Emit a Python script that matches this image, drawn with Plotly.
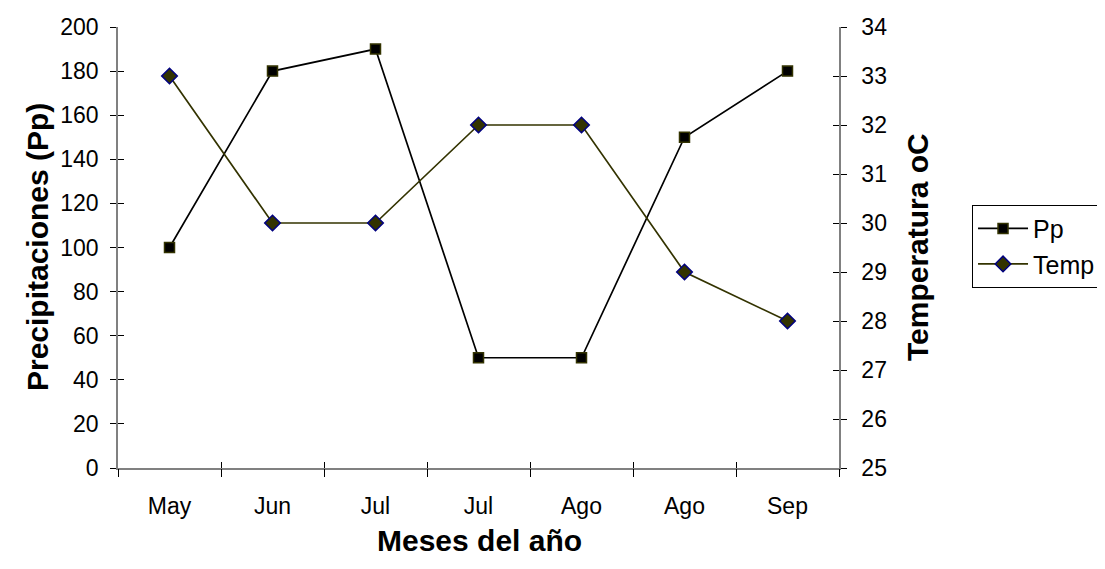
import plotly.graph_objects as go

months = ["May", "Jun", "Jul", "Jul", "Ago", "Ago", "Sep"]
pp = [100, 180, 190, 50, 50, 150, 180]
temp = [33, 30, 30, 32, 32, 29, 28]
pp_ticks = list(range(0, 201, 20))
temp_ticks = list(range(25, 35, 1))

xpos = list(range(len(months)))
bounds = [i - 0.5 for i in range(len(months) + 1)]

FONT = "Liberation Sans, Arial, sans-serif"
TICKF = dict(family=FONT, size=23, color="black")
TITLEF = dict(family=FONT, size=30, color="black")

fig = go.Figure()
fig.add_trace(go.Scatter(
    x=xpos, y=pp, name="Pp", mode="lines+markers",
    line=dict(color="black", width=1.7),
    marker=dict(symbol="square", size=10, color="black",
                line=dict(color="#333300", width=1.5)),
    xaxis="x", yaxis="y"))
fig.add_trace(go.Scatter(
    x=xpos, y=temp, name="Temp", mode="lines+markers",
    line=dict(color="#333300", width=1.7),
    marker=dict(symbol="diamond", size=12, color="#333300",
                line=dict(color="#000080", width=1.5)),
    xaxis="x", yaxis="y2"))

# invisible helper traces so that the tick-overlay axes get drawn
for xa, ya in [("x2", "y"), ("x3", "y"), ("x", "y3"), ("x", "y4")]:
    fig.add_trace(go.Scatter(x=xpos, y=pp, mode="markers",
                             marker=dict(opacity=0), hoverinfo="skip",
                             showlegend=False, xaxis=xa, yaxis=ya))

xr = [-0.5, len(months) - 0.5]
yr = [0, 200]
y2r = [25, 34]
LINEC = "#808080"

fig.update_layout(
    width=1097, height=561,
    margin=dict(l=110, r=266, t=19, b=101, autoexpand=False),
    paper_bgcolor="white", plot_bgcolor="white",
    font=dict(family=FONT, color="black"),
    showlegend=True,
    legend=dict(x=1.1845, y=0.597, xanchor="left", yanchor="top",
                bordercolor="black", borderwidth=1, bgcolor="white",
                font=dict(family=FONT, size=25, color="black"),
                itemwidth=50, tracegroupgap=0),
    xaxis=dict(range=xr, tickmode="array", tickvals=xpos, ticktext=months,
               ticks="", showgrid=False, zeroline=False,
               showline=True, linecolor=LINEC, linewidth=1.5,
               tickfont=TICKF, ticklabelstandoff=17, anchor="y"),
    xaxis2=dict(range=xr, overlaying="x", side="bottom", anchor="y",
                tickmode="array", tickvals=bounds, showticklabels=False,
                ticks="outside", ticklen=8, tickcolor="black", tickwidth=1,
                showgrid=False, zeroline=False, showline=False),
    xaxis3=dict(range=xr, overlaying="x", side="bottom", anchor="y",
                tickmode="array", tickvals=bounds, showticklabels=False,
                ticks="inside", ticklen=6, tickcolor="black", tickwidth=1,
                showgrid=False, zeroline=False, showline=False),
    yaxis=dict(range=yr, tickmode="array", tickvals=pp_ticks,
               ticks="outside", ticklen=6, tickcolor="black", tickwidth=1,
               showgrid=False, zeroline=False,
               showline=True, linecolor=LINEC, linewidth=1.5,
               tickfont=TICKF, ticklabelstandoff=7),
    yaxis2=dict(range=y2r, overlaying="y", side="right", anchor="x",
                tickmode="array", tickvals=temp_ticks,
                ticks="outside", ticklen=6, tickcolor="black", tickwidth=1,
                showgrid=False, zeroline=False,
                showline=True, linecolor=LINEC, linewidth=1.5,
                tickfont=TICKF, ticklabelstandoff=10),
    yaxis3=dict(range=yr, overlaying="y", side="left", anchor="x",
                tickmode="array", tickvals=pp_ticks, showticklabels=False,
                ticks="inside", ticklen=6, tickcolor="black", tickwidth=1,
                showgrid=False, zeroline=False, showline=False),
    yaxis4=dict(range=y2r, overlaying="y", side="right", anchor="x",
                tickmode="array", tickvals=temp_ticks, showticklabels=False,
                ticks="inside", ticklen=6, tickcolor="black", tickwidth=1,
                showgrid=False, zeroline=False, showline=False),
    annotations=[
        dict(text="<b>Precipitaciones (Pp)</b>", xref="paper", yref="paper",
             x=(37 - 118) / 721, y=0.501, textangle=-90, showarrow=False,
             xanchor="center", yanchor="middle", font=TITLEF),
        dict(text="<b>Temperatura oC</b>", xref="paper", yref="paper",
             x=(917 - 118) / 721, y=0.501, textangle=-90, showarrow=False,
             xanchor="center", yanchor="middle", font=TITLEF),
        dict(text="<b>Meses del año</b>", xref="paper", yref="paper",
             x=0.5007, y=(468 - 540) / 441, showarrow=False,
             xanchor="center", yanchor="middle", font=TITLEF),
    ],
)

fig.write_html("out.html")
